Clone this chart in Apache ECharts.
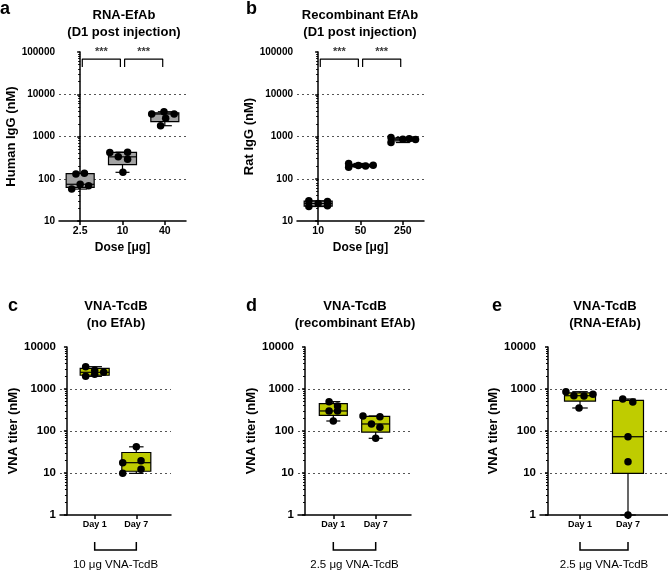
<!DOCTYPE html>
<html><head><meta charset="utf-8">
<script src="https://cdn.jsdelivr.net/npm/echarts@6/dist/echarts.min.js"></script>
<style>html,body{margin:0;padding:0;background:#fff}#c{width:668px;height:571px}</style>
</head><body><div id="c"></div>
<script>
const FONT = '"Liberation Sans", Arial, Helvetica, sans-serif';

// ---------- Panel a: RNA-EfAb (Human IgG, nM) ----------
const aCategories = ['2.5', '10', '40'];
const aPoints = [[129, 135, 74, 68, 57], [418, 425, 330, 290, 142], [3410, 3860, 3400, 2700, 1800]];
const aJitter = [[-0.1, 0.1, 0, 0.2, -0.2], [-0.3, 0.12, -0.1, 0.12, 0.01], [-0.31, -0.02, 0.22, 0.02, -0.1]];
const aBoxStats = [[57, 62.5, 74, 132, 135], [142, 216, 330, 421.5, 425], [1800, 2250, 3400, 3635, 3860]];

// ---------- Panel b: Recombinant EfAb (Rat IgG, nM) ----------
const bCategories = ['10', '50', '250'];
const bPoints = [[30, 22, 26, 29, 23], [230, 188, 205, 200, 208], [950, 720, 860, 880, 850]];
const bJitter = [[-0.22, -0.22, 0, 0.22, 0.22], [-0.28, -0.28, -0.05, 0.12, 0.3], [-0.28, -0.28, 0, 0.15, 0.3]];
const bBoxStats = [[22, 22.5, 26, 29.5, 30], [188, 194, 205, 219, 230], [720, 785, 860, 915, 950]];

// ---------- Panels c-e: VNA titer (nM) ----------
const vnaSlots = ['', '', 'Day 1', '', '', 'Day 7', '', ''];
const vnaDays = ['Day 1', 'Day 7'];
const cPoints = [[3400, 2800, 2500, 2250, 2000], [42, 17.6, 19.6, 12.2, 9.8]];
const cJitter = [[-0.65, 0, 0.65, 0, -0.65], [0, -0.98, 0.34, 0.34, -0.98]];
const cBoxStats = [[2000, 2125, 2500, 3100, 3400], [9.8, 11, 17.6, 30.8, 42]];
const dPoints = [[500, 394, 299, 300, 173], [228, 219, 147, 122, 67]];
const dJitter = [[-0.3, 0.3, -0.3, 0.3, 0], [-0.9, 0.3, -0.3, 0.3, 0]];
const dBoxStats = [[173, 236, 300, 447, 500], [67, 94.5, 147, 223.5, 228]];
const ePoints = [[863, 692, 681, 748, 353], [578, 490, 73, 18.6, 1]];
const eJitter = [[-0.88, -0.38, 0.25, 0.81, -0.06], [-0.33, 0.3, 0, 0, 0]];
const eBoxStats = [[353, 517, 692, 805.5, 863], [1, 9.8, 73, 534, 578]];

const sigLabel = '***';
const sigBrackets = [[0.05, 0.95], [1.05, 1.95]];
const doseNotes = ['10 μg VNA-TcdB', '2.5 μg VNA-TcdB', '2.5 μg VNA-TcdB'];

const GRAY = '#a3a3a3';
const LIME = '#bfcc00';

const panels = [
  { letter: 'a', title: 'RNA-EfAb\n(D1 post injection)', cats: aCategories, slots: [0, 1, 2], pts: aPoints, jit: aJitter, box: aBoxStats, color: GRAY,
    grid: { left: 59, top: 52, width: 127, height: 169 }, yMin: 10, yMax: 100000, yName: 'Human IgG (nM)', xName: 'Dose [μg]',
    yNameGap: 39, yLabelSize: 10, xLabelSize: 10.5, boxW: 28, titleX: 124, titleY: 7, letterX: 0, letterY: 0, sig: true },
  { letter: 'b', title: 'Recombinant EfAb\n(D1 post injection)', cats: bCategories, slots: [0, 1, 2], pts: bPoints, jit: bJitter, box: bBoxStats, color: GRAY,
    grid: { left: 297, top: 52, width: 127, height: 169 }, yMin: 10, yMax: 100000, yName: 'Rat IgG (nM)', xName: 'Dose [μg]',
    yNameGap: 40, yLabelSize: 10, xLabelSize: 10.5, boxW: 28, titleX: 360, titleY: 7, letterX: 246, letterY: 0, sig: true },
  { letter: 'c', title: 'VNA-TcdB\n(no EfAb)', cats: vnaSlots, slots: [2, 5], pts: cPoints, jit: cJitter, box: cBoxStats, color: LIME,
    grid: { left: 60, top: 347, width: 111, height: 168 }, yMin: 1, yMax: 10000, yName: 'VNA titer (nM)', xName: '',
    yNameGap: 38, yLabelSize: 11.5, xLabelSize: 9, boxW: 29, titleX: 116, titleY: 298, letterX: 8, letterY: 297, note: doseNotes[0] },
  { letter: 'd', title: 'VNA-TcdB\n(recombinant EfAb)', cats: vnaSlots, slots: [2, 5], pts: dPoints, jit: dJitter, box: dBoxStats, color: LIME,
    grid: { left: 298, top: 347, width: 113, height: 168 }, yMin: 1, yMax: 10000, yName: 'VNA titer (nM)', xName: '',
    yNameGap: 38, yLabelSize: 11.5, xLabelSize: 9, boxW: 28, titleX: 355, titleY: 298, letterX: 246, letterY: 297, note: doseNotes[1] },
  { letter: 'e', title: 'VNA-TcdB\n(RNA-EfAb)', cats: vnaSlots, slots: [2, 5], pts: ePoints, jit: eJitter, box: eBoxStats, color: LIME,
    grid: { left: 540, top: 347, width: 128, height: 168 }, yMin: 1, yMax: 10000, yName: 'VNA titer (nM)', xName: '',
    yNameGap: 40, yLabelSize: 11.5, xLabelSize: 9, boxW: 31, titleX: 605, titleY: 298, letterX: 492, letterY: 297, note: doseNotes[2] }
];

function boxRenderer(boxW, fill) {
  return function (params, api) {
    const x = api.value(0);
    const pMin = api.coord([x, api.value(1)]);
    const pQ1 = api.coord([x, api.value(2)]);
    const pMed = api.coord([x, api.value(3)]);
    const pQ3 = api.coord([x, api.value(4)]);
    const pMax = api.coord([x, api.value(5)]);
    const cx = pMed[0], hw = boxW / 2, cap = boxW * 0.25;
    const ls = { stroke: '#000', lineWidth: 1.2 };
    return {
      type: 'group',
      children: [
        { type: 'line', shape: { x1: cx, y1: pMax[1], x2: cx, y2: pQ3[1] }, style: ls },
        { type: 'line', shape: { x1: cx, y1: pQ1[1], x2: cx, y2: pMin[1] }, style: ls },
        { type: 'line', shape: { x1: cx - cap, y1: pMax[1], x2: cx + cap, y2: pMax[1] }, style: ls },
        { type: 'line', shape: { x1: cx - cap, y1: pMin[1], x2: cx + cap, y2: pMin[1] }, style: ls },
        { type: 'rect', shape: { x: cx - hw, y: pQ3[1], width: boxW, height: pQ1[1] - pQ3[1] },
          style: { fill: fill, stroke: '#000', lineWidth: 1.2 } },
        { type: 'line', shape: { x1: cx - hw, y1: pMed[1], x2: cx + hw, y2: pMed[1] }, style: ls }
      ]
    };
  };
}

const option = { animation: false, backgroundColor: '#fff', title: [], grid: [], xAxis: [], yAxis: [], series: [] };
const black = { color: '#000', width: 1.5 };

panels.forEach((p, i) => {
  option.title.push({ text: p.title, left: p.titleX, top: p.titleY, textAlign: 'center', padding: 0,
    textStyle: { fontFamily: FONT, fontWeight: 'bold', fontSize: 13, lineHeight: 17, color: '#000' } });
  option.title.push({ text: p.letter, left: p.letterX, top: p.letterY, padding: 0,
    textStyle: { fontFamily: FONT, fontWeight: 'bold', fontSize: 18, color: '#000' } });
  option.grid.push(Object.assign({ containLabel: false }, p.grid));
  const showIdx = (idx) => p.cats[idx] !== '';
  option.xAxis.push({
    type: 'category', gridIndex: i, data: p.cats, boundaryGap: true,
    axisLine: { show: true, onZero: false, lineStyle: black },
    axisTick: { show: true, alignWithLabel: true, length: 4, interval: showIdx, lineStyle: black },
    axisLabel: { interval: 0, color: '#000', fontFamily: FONT, fontWeight: 'bold', fontSize: p.xLabelSize, margin: 5 },
    splitLine: { show: false },
    name: p.xName, nameLocation: 'middle', nameGap: 21,
    nameTextStyle: { color: '#000', fontFamily: FONT, fontWeight: 'bold', fontSize: 12 }
  });
  option.xAxis.push({ type: 'value', gridIndex: i, min: -0.5, max: p.cats.length - 0.5, show: false });
  option.yAxis.push({
    type: 'log', logBase: 10, gridIndex: i, min: p.yMin, max: p.yMax,
    axisLine: { show: true, lineStyle: black },
    axisTick: { show: true, length: 3, lineStyle: black },
    minorTick: { show: true, splitNumber: 9, length: 2, lineStyle: { color: '#000', width: 1 } },
    axisLabel: { color: '#000', fontFamily: FONT, fontWeight: 'bold', fontSize: p.yLabelSize, margin: 4,
      formatter: (v) => String(Math.round(v)) },
    splitLine: { show: true, showMinLine: false, showMaxLine: false, lineStyle: { type: [2, 3], color: '#555', width: 1 } },
    name: p.yName, nameLocation: 'middle', nameGap: p.yNameGap, nameRotate: 90,
    nameTextStyle: { color: '#000', fontFamily: FONT, fontWeight: 'bold', fontSize: 13 }
  });
  const catAxis = 2 * i, valAxis = 2 * i + 1;
  option.series.push({
    type: 'custom', xAxisIndex: catAxis, yAxisIndex: i, silent: true, clip: false,
    data: p.box.map((b, k) => [p.slots[k]].concat(b)),
    encode: { x: 0, y: [1, 2, 3, 4, 5] },
    renderItem: boxRenderer(p.boxW, p.color), z: 2
  });
  const sc = [];
  p.pts.forEach((arr, k) => arr.forEach((v, j) => sc.push([p.slots[k] + p.jit[k][j], v])));
  option.series.push({
    type: 'scatter', xAxisIndex: valAxis, yAxisIndex: i, data: sc, symbol: 'circle', symbolSize: 7.5,
    itemStyle: { color: '#000', opacity: 1 }, clip: false, silent: true, z: 5
  });
  if (p.sig) {
    sigBrackets.forEach((br) => {
      option.series.push({
        type: 'line', xAxisIndex: valAxis, yAxisIndex: i, silent: true, symbol: 'none', clip: false,
        lineStyle: { color: '#000', width: 1.2 },
        data: [[br[0], 44000], [br[0], 68000], [br[1], 68000], [br[1], 44000]]
      });
      option.series.push({
        type: 'scatter', xAxisIndex: valAxis, yAxisIndex: i, silent: true, clip: false, symbolSize: 0,
        data: [[(br[0] + br[1]) / 2, 100000]],
        label: { show: true, position: 'inside', formatter: sigLabel, color: '#000', fontFamily: FONT, fontWeight: 'bold', fontSize: 11 }
      });
    });
  }
});

const chart = echarts.init(document.getElementById('c'), null, { renderer: 'canvas' });
chart.setOption(option);

// brackets under the day labels, positioned through the axes
const graphics = [];
panels.forEach((p, i) => {
  if (!p.note) return;
  const x1 = chart.convertToPixel({ xAxisIndex: 2 * i }, vnaDays[0]);
  const x2 = chart.convertToPixel({ xAxisIndex: 2 * i }, vnaDays[1]);
  const yb = chart.convertToPixel({ yAxisIndex: i }, p.yMin);
  graphics.push({ type: 'polyline', silent: true, shape: { points: [[x1, yb + 27], [x1, yb + 35], [x2, yb + 35], [x2, yb + 27]] },
    style: { stroke: '#000', lineWidth: 1.5, fill: null } });
  graphics.push({ type: 'text', silent: true, x: (x1 + x2) / 2, y: yb + 50,
    style: { text: p.note, align: 'center', verticalAlign: 'middle', fill: '#000', font: 'normal 11.5px ' + FONT } });
});
chart.setOption({ graphic: graphics });
</script></body></html>
